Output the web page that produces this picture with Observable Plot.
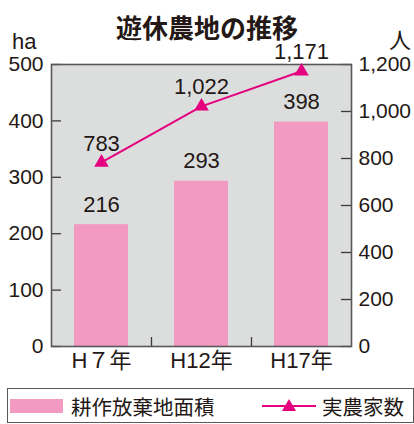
<!DOCTYPE html>
<html><head><meta charset="utf-8">
<script src="https://cdn.jsdelivr.net/npm/d3@7"></script>
<script src="https://cdn.jsdelivr.net/npm/@observablehq/plot@0.6"></script>
<style>
body{margin:0;background:#fff;}
#wrap{position:relative;width:414px;height:424px;overflow:hidden;}
.t{position:absolute;white-space:nowrap;color:#231815;}
</style></head>
<body><div id="wrap"></div>
<script>
const years = ["H７年", "H12年", "H17年"];
const area = [216, 293, 398];          // 耕作放棄地面積 (ha)
const farms = [783, 1022, 1171];       // 実農家数 (人)
const leftTicks = [0, 100, 200, 300, 400, 500];
const rightTicks = [0, 200, 400, 600, 800, 1000, 1200];
const title = "遊休農地の推移";
const legendLabels = ["耕作放棄地面積", "実農家数"];

const k = 500 / 1200;
const data = years.map((y, i) => ({year: y, area: area[i], farms: farms[i]}));
const pink = "#f39ac2", mag = "#e4007f", ink = "#231815";
const num = "'Liberation Sans', Arial, sans-serif";
const narrow = "'Liberation Sans Narrow', 'Liberation Sans', sans-serif";

const chart = Plot.plot({
  width: 414, height: 424,
  marginTop: 64, marginBottom: 78, marginLeft: 51, marginRight: 63,
  style: {fontFamily: num, color: ink, background: "transparent"},
  x: {domain: years, paddingInner: 0.46, paddingOuter: 0.23, label: null},
  y: {domain: [0, 500], label: null},
  marks: [
    Plot.frame({fill: "#dcdddd", stroke: "none"}),
    Plot.barY(data, {x: "year", y: "area", fill: pink}),
    Plot.tickY(leftTicks, {y: d => d, insetRight: 290, stroke: "#3e3a39", strokeWidth: 1.3}),
    Plot.tickY(rightTicks, {y: d => d * k, insetLeft: 290, stroke: "#3e3a39", strokeWidth: 1.3}),
    Plot.tickX(years.slice(0, 2), {x: d => d, dx: 50, insetTop: 273, stroke: "#3e3a39", strokeWidth: 1.3}),
    Plot.frame({stroke: "#595757", strokeWidth: 1.6}),
    Plot.axisY(leftTicks, {anchor: "left", tickSize: 0, tickPadding: 8, fontSize: 21, fill: ink, label: null}),
    Plot.axisY(rightTicks.map(d => d * k), {anchor: "right", tickSize: 0, tickPadding: 7, fontSize: 21, fill: ink, label: null,
      tickFormat: d => d3.format(",")(Math.round(d / k))}),
    Plot.axisX({tickSize: 0, tickPadding: 6, fontSize: 22, fill: ink, label: null,
      fontFamily: "'Liberation Sans', 'Noto Sans CJK JP', sans-serif"}),
    Plot.text(data, {x: "year", y: "area", text: d => String(d.area), dy: -20, fontSize: 22, fontFamily: narrow, fill: ink}),
    Plot.line(data, {x: "year", y: d => d.farms * k, stroke: mag, strokeWidth: 2}),
    Plot.dot(data, {x: "year", y: d => d.farms * k, symbol: "triangle", r: 5.4, fill: mag, stroke: "none"}),
    Plot.text(data, {x: "year", y: d => d.farms * k, text: d => d3.format(",")(d.farms), dy: -19, fontSize: 22,
      fontFamily: narrow, fill: ink, stroke: d => d.year === "H17年" ? "white" : "none", strokeWidth: 3, paintOrder: "stroke"})
  ]
});

const wrap = document.getElementById("wrap");
chart.style.position = "absolute"; chart.style.left = "0"; chart.style.top = "0";
wrap.appendChild(chart);

function add(html, css) {
  const d = document.createElement("div");
  d.className = "t"; d.innerHTML = html; Object.assign(d.style, css);
  wrap.appendChild(d); return d;
}
add(title, {left: "0", width: "414px", textAlign: "center", top: "9px", fontSize: "26px", fontWeight: "bold",
  fontFamily: "'Noto Sans CJK JP', sans-serif", lineHeight: "36px"});
add("ha", {left: "12px", top: "28px", fontSize: "22px", fontFamily: num, lineHeight: "28px"});
add("人", {left: "389px", top: "24px", fontSize: "22px", fontFamily: "'Noto Sans CJK JP', sans-serif", lineHeight: "28px"});

const box = document.createElement("div");
Object.assign(box.style, {position: "absolute", left: "7px", top: "388px", width: "405px", height: "33px",
  border: "1.5px solid #595757", boxSizing: "content-box"});
wrap.appendChild(box);
const sw = document.createElement("div");
Object.assign(sw.style, {position: "absolute", left: "10px", top: "399px", width: "53px", height: "14px", background: pink});
wrap.appendChild(sw);
add(legendLabels[0], {left: "71px", top: "390px", fontSize: "20.5px", fontFamily: "'Noto Sans CJK JP', sans-serif", lineHeight: "32px"});
const ls = document.createElementNS("http://www.w3.org/2000/svg", "svg");
ls.setAttribute("width", "60"); ls.setAttribute("height", "20");
Object.assign(ls.style, {position: "absolute", left: "260px", top: "396px"});
ls.innerHTML = `<line x1="2" x2="56" y1="10" y2="10" stroke="${mag}" stroke-width="2"/>
<path d="M29,3 L36,15 L22,15 Z" fill="${mag}"/>`;
wrap.appendChild(ls);
add(legendLabels[1], {left: "322px", top: "390px", fontSize: "20.5px", fontFamily: "'Noto Sans CJK JP', sans-serif", lineHeight: "32px"});
</script></body></html>
